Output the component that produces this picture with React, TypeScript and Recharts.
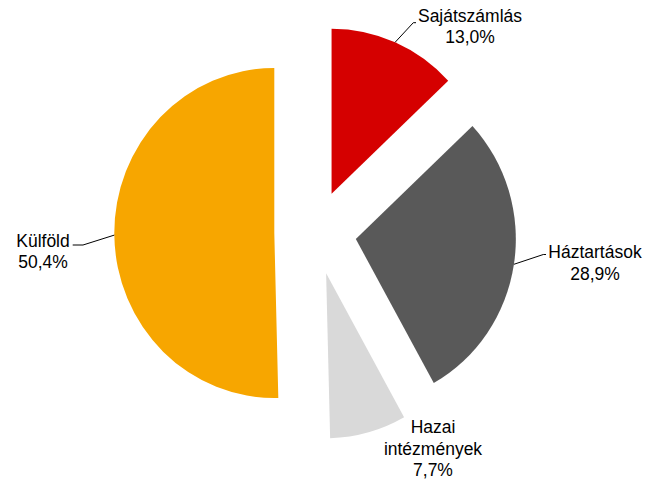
import React from 'react';
import { PieChart, Pie, Cell, Sector } from 'recharts';

// ---- data ----
const categories = ['Sajátszámlás', 'Háztartások', 'Hazai intézmények', 'Külföld'];
const shares = [13.0, 28.9, 7.7, 50.4];
const labelLines = [['Sajátszámlás'], ['Háztartások'], ['Hazai', 'intézmények'], ['Külföld']];
const colors = ['#D50000', '#595959', '#D9D9D9', '#F7A600'];

const data = categories.map((name, i) => ({ name, value: shares[i] }));

// ---- layout / style ----
const W = 657;
const H = 479;
const CX = 315.3;
const CY = 232.5;
const R = 160;
const KY = 165 / 160; // vertical stretch of the picture
const EXPLODE = 41;
const RAD = Math.PI / 180;
const FONT = '"Liberation Sans", Arial, sans-serif';
const FONT_SIZE = 17.5;
const LINE_H = 21.3;

// label placement relative to pie centre: text centre x, first baseline y, leader elbow & end
const labelLayout = [
  { tx: 154.7, ty: -210.8, leader: [[98, -209.8], [100.7, -209.8]] },
  { tx: 279.7, ty: 25.8, leader: [[228, 22], [230.7, 22]] },
  { tx: 117.7, ty: 200.8, leader: null },
  { tx: -272.3, ty: 14.2, leader: [[-232.3, 12.5], [-242.6, 12.5]] },
];

const fmt = (v: number) => v.toFixed(1).replace('.', ',') + '%';

const stretch = (cy: number) => `translate(0 ${cy}) scale(1 ${KY}) translate(0 ${-cy})`;

const renderSlice = (props: any) => {
  const { cx, cy, midAngle, outerRadius, startAngle, endAngle, fill } = props;
  const ox = cx + EXPLODE * Math.cos(midAngle * RAD);
  const oy = cy - EXPLODE * Math.sin(midAngle * RAD);
  return (
    <g transform={stretch(cy)}>
      <Sector
        cx={ox}
        cy={oy}
        innerRadius={0}
        outerRadius={outerRadius}
        startAngle={startAngle}
        endAngle={endAngle}
        fill={fill}
        stroke="none"
      />
    </g>
  );
};

const renderLabel = (props: any) => {
  const { cx, cy, midAngle, outerRadius, index, value } = props;
  const lay = labelLayout[index];
  const ox = cx + EXPLODE * Math.cos(midAngle * RAD);
  const oy = cy - EXPLODE * Math.sin(midAngle * RAD);
  const px = ox + outerRadius * Math.cos(midAngle * RAD);
  const py = cy + (oy - outerRadius * Math.sin(midAngle * RAD) - cy) * KY;
  const lines = [...labelLines[index], fmt(value)];
  return (
    <g>
      {lay.leader && (
        <polyline
          points={`${px},${py} ${cx + lay.leader[0][0]},${cy + lay.leader[0][1]} ${cx + lay.leader[1][0]},${cy + lay.leader[1][1]}`}
          fill="none"
          stroke="#000"
          strokeWidth={1}
        />
      )}
      <text
        x={cx + lay.tx}
        y={cy + lay.ty}
        textAnchor="middle"
        fontFamily={FONT}
        fontSize={FONT_SIZE}
        fill="#000"
      >
        {lines.map((l, i) => (
          <tspan key={i} x={cx + lay.tx} y={cy + lay.ty + i * LINE_H}>
            {l}
          </tspan>
        ))}
      </text>
    </g>
  );
};

export default function App() {
  return (
    <div style={{ position: 'absolute', left: 0, top: 0, width: W, height: H, background: '#fff' }}>
      <PieChart width={W} height={H} margin={{ top: 0, right: 0, bottom: 0, left: 0 }}>
        <Pie
          data={data}
          dataKey="value"
          nameKey="name"
          cx={CX}
          cy={CY}
          outerRadius={R}
          startAngle={90}
          endAngle={-270}
          stroke="none"
          isAnimationActive={false}
          shape={renderSlice}
          label={renderLabel}
          labelLine={false}
        >
          {data.map((d, i) => (
            <Cell key={d.name} fill={colors[i]} />
          ))}
        </Pie>
      </PieChart>
    </div>
  );
}
